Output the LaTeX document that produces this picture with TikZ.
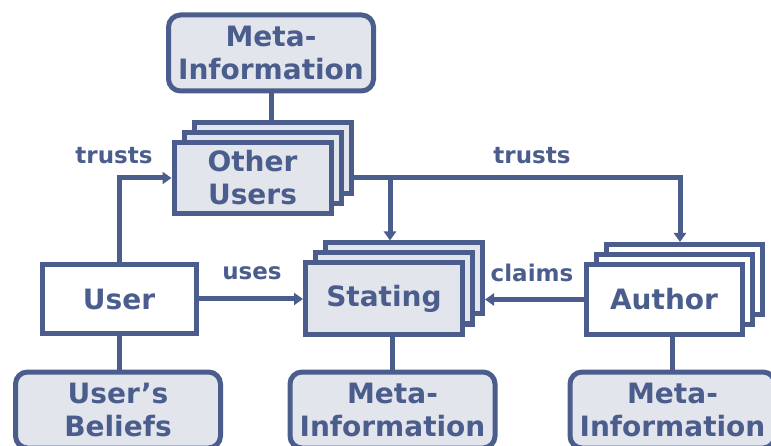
\documentclass[tikz,border=0pt]{standalone}
\usepackage{fontspec}
\setmainfont{DejaVu Sans}
\usetikzlibrary{arrows.meta,calc}
\definecolor{ink}{HTML}{4A5D8C}
\definecolor{pale}{HTML}{E3E5ED}
\tikzset{
  base/.style={draw=ink, line width=5pt, text=ink, font=\fontsize{28}{33}\selectfont\bfseries, align=center, inner sep=0pt},
  card/.style={base, fill=pale, minimum width=157pt, minimum height=71pt},
  plain/.style={base, fill=white, minimum width=156pt, minimum height=70pt},
  meta/.style={base, fill=pale, rounded corners=12pt, minimum width=205pt, minimum height=76pt},
  lbl/.style={text=ink, font=\fontsize{23}{26}\selectfont\bfseries, inner sep=0pt},
  conn/.style={draw=ink, line width=5pt},
  arr/.style={conn, -{Triangle[length=9pt,width=12pt]}}
}
\begin{document}
\begin{tikzpicture}[x=1pt,y=1pt]
\useasboundingbox (0,0) rectangle (771,-446);
\clip (0,0) rectangle (771,-446);
% top meta
\node[meta] (meta1) at (271,-53) {Meta-\\Information};
% other users stack
\node[card] (ou3) at (272.5,-158) {};
\node[card] (ou2) at (262.5,-168) {};
\node[card] (ou1) at (252.5,-178) {Other\\Users};
% user
\node[plain, minimum width=154pt, minimum height=68pt] (user) at (119,-299) {User};
% stating stack
\node[card] (st3) at (404,-278.5) {};
\node[card] (st2) at (394,-288.5) {};
\node[card] (st1) at (384,-298.5) {Stating};
% author stack
\node[plain] (au3) at (684,-279.5) {};
\node[plain] (au2) at (674,-289.5) {};
\node[plain] (au1) at (664,-299.5) {Author};
% bottom boxes
\node[meta] (bel) at (118,-410) {User’s\\Beliefs};
\node[meta] (meta2) at (392.5,-410) {Meta-\\Information};
\node[meta] (meta3) at (672.5,-410) {Meta-\\Information};
% connectors
\draw[conn] (meta1.south) -- (meta1.south |- ou3.north);
\draw[arr] (user.north) |- (ou1.west);
\coordinate (split) at ($(ou3.east |- ou1.center)$);
\coordinate (stin) at ([xshift=-14pt]st3.north);
\coordinate (auin) at ([xshift=-4pt]au3.north);
\draw[arr] (split) -| (auin);
\draw[arr] (stin |- split) -- (stin);
\draw[arr] (user.east) -- (user.east -| st1.west);
\draw[arr] (au1.west) -- (au1.west -| st3.east);
\draw[conn] (user.south) -- (user.south |- bel.north);
\draw[conn] (meta2.north) -- (meta2.north |- st1.south);
\draw[conn] (meta3.north) -- (meta3.north |- au1.south);
% labels
\node[lbl] (l1) at (114,-156) {trusts};
\node[lbl] (l2) at (532,-156) {trusts};
\node[lbl] (l3) at (252,-273) {uses};
\node[lbl] (l4) at (532,-273) {claims};
\end{tikzpicture}
\end{document}
